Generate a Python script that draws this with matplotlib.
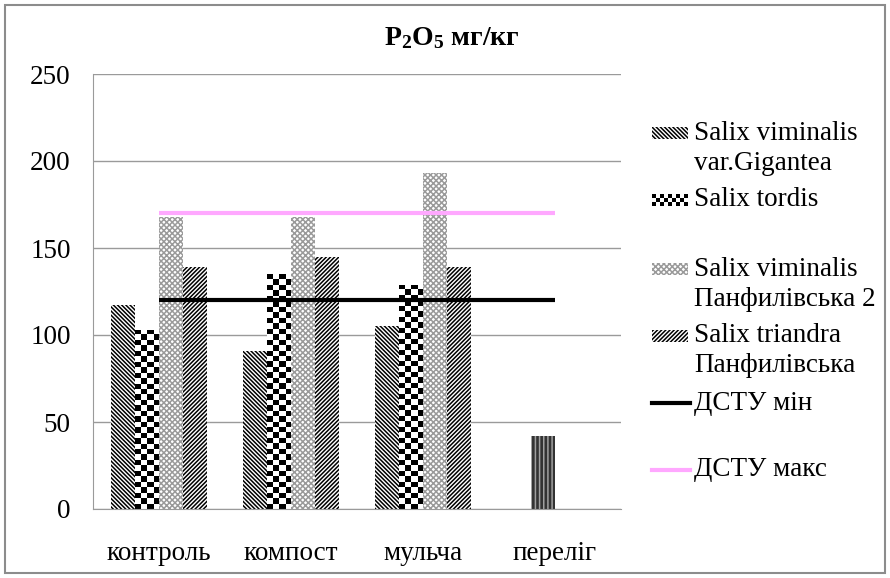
import numpy as np
import matplotlib
matplotlib.use('Agg')
import matplotlib.pyplot as plt
from matplotlib.patches import Rectangle
from matplotlib.lines import Line2D

plt.rcParams['font.family'] = ['Liberation Serif', 'DejaVu Serif']
plt.rcParams['mathtext.fontset'] = 'custom'
plt.rcParams['mathtext.rm'] = 'Liberation Serif'
plt.rcParams['mathtext.bf'] = 'Liberation Serif:bold'
plt.rcParams['hatch.linewidth'] = 1.1

categories = ['контроль', 'компост', 'мульча', 'переліг']
gigantea = [117, 91, 105, 0]
tordis = [103, 135, 129, 42]
panf2 = [168, 168, 193, 0]
triandra = [139, 145, 139, 0]
dstu_min = [120, 120, 120, 120]
dstu_max = [170, 170, 170, 170]

series_names = ['Salix viminalis\nvar.Gigantea', 'Salix tordis',
                'Salix viminalis\nПанфилівська 2', 'Salix triandra\nПанфилівська']
line_names = ['ДСТУ мін', 'ДСТУ макс']

FS = 19.5
W, H = 890, 578
fig = plt.figure(figsize=(W / 100, H / 100), dpi=100)
ax = fig.add_axes([93 / W, 1 - 509 / H, (621 - 93) / W, (509 - 74) / H])

x = np.arange(len(categories))
w = 0.182
px_per_unit = (509 - 74) / 250

HATCH_GIG = dict(hatch='\\' * 8, ec='black')
HATCH_PAN = dict(hatch='x' * 6, ec='#9a9a9a')
HATCH_TRI = dict(hatch='/' * 8, ec='black')


def checker(h, cell=5.5, ncols=4):
    nr = max(1, int(round(h * px_per_unit / cell)))
    return np.indices((nr, ncols)).sum(axis=0) % 2


# Salix viminalis var.Gigantea
ax.bar(x - 1.5 * w, gigantea, w, color='white', linewidth=0, zorder=2, **HATCH_GIG)
# Salix tordis: checkerboard texture clipped to each bar
tb = ax.bar(x - 0.5 * w, tordis, w, color='white', edgecolor='none',
            linewidth=0, zorder=2)
for i, (xi, h) in enumerate(zip(x - 0.5 * w, tordis)):
    if h == 0:
        continue
    if i == len(categories) - 1:
        tb[i].set_facecolor('#333333')
        tb[i].set_edgecolor('#a0a0a0')
        tb[i].set_hatch('|' * 4)
        continue
    im = ax.imshow(checker(h), cmap='gray', extent=(xi - w / 2, xi + w / 2, 0, h),
                   interpolation='nearest', aspect='auto', zorder=2)
    im.set_clip_path(tb[i])
# Salix viminalis Панфилівська 2
ax.bar(x + 0.5 * w, panf2, w, color='white', linewidth=0, zorder=2, **HATCH_PAN)
# Salix triandra Панфилівська
ax.bar(x + 1.5 * w, triandra, w, color='white', linewidth=0, zorder=2, **HATCH_TRI)

ax.plot(x, dstu_min, color='black', lw=3, zorder=3, solid_capstyle='butt')
ax.plot(x, dstu_max, color='#ffa8ff', lw=3, zorder=3, solid_capstyle='butt')

ax.set_xlim(-0.5, len(categories) - 0.5)
ax.set_ylim(0, 250)
ax.set_yticks(range(0, 251, 50))
ax.set_xticks(x)
ax.set_xticklabels(categories)
ax.tick_params(axis='both', length=0, labelsize=FS)
ax.tick_params(axis='y', pad=16)
ax.tick_params(axis='x', pad=23)
ax.grid(axis='y', color='#9a9a9a', lw=1, zorder=0)
ax.set_axisbelow(True)
for s in ['top', 'right']:
    ax.spines[s].set_visible(False)
for s in ['left', 'bottom']:
    ax.spines[s].set_color('#9a9a9a')

fig.text(452 / W, 1 - 38 / H, r'$\mathbf{P_2O_5}$ мг/кг', ha='center', va='center',
         fontsize=20, fontweight='bold')

# legend drawn by hand so the handles line up with the first text line
ly = [133, 200, 269, 336, 403, 470]
styles = [HATCH_GIG, None, HATCH_PAN, HATCH_TRI]
for k, name in enumerate(series_names):
    y = ly[k]
    if styles[k] is None:
        lax = fig.add_axes([652 / W, 1 - (y + 6) / H, 36 / W, 12 / H])
        lax.imshow(np.indices((3, 9)).sum(axis=0) % 2, cmap='gray',
                   interpolation='nearest', aspect='auto')
        lax.axis('off')
    else:
        fig.patches.append(Rectangle((652 / W, 1 - (y + 6) / H), 36 / W, 12 / H,
                                     transform=fig.transFigure, fc='white', lw=0,
                                     **styles[k]))
    for j, line in enumerate(name.split('\n')):
        fig.text(694 / W, 1 - (y + 30 * j) / H, line, ha='left', va='center',
                 fontsize=FS)
for k, (name, col) in enumerate(zip(line_names, ['black', '#ffa8ff'])):
    y = ly[4 + k]
    fig.lines.append(Line2D([652 / W, 690 / W], [1 - y / H, 1 - y / H],
                            transform=fig.transFigure, color=col, lw=3))
    fig.text(694 / W, 1 - y / H, name, ha='left', va='center', fontsize=FS)

fig.patches.append(Rectangle((5 / W, 5 / H), 880 / W, 568 / H, transform=fig.transFigure,
                             fill=False, ec='#8c8c8c', lw=1.5))

fig.savefig('out.png', dpi=100)
